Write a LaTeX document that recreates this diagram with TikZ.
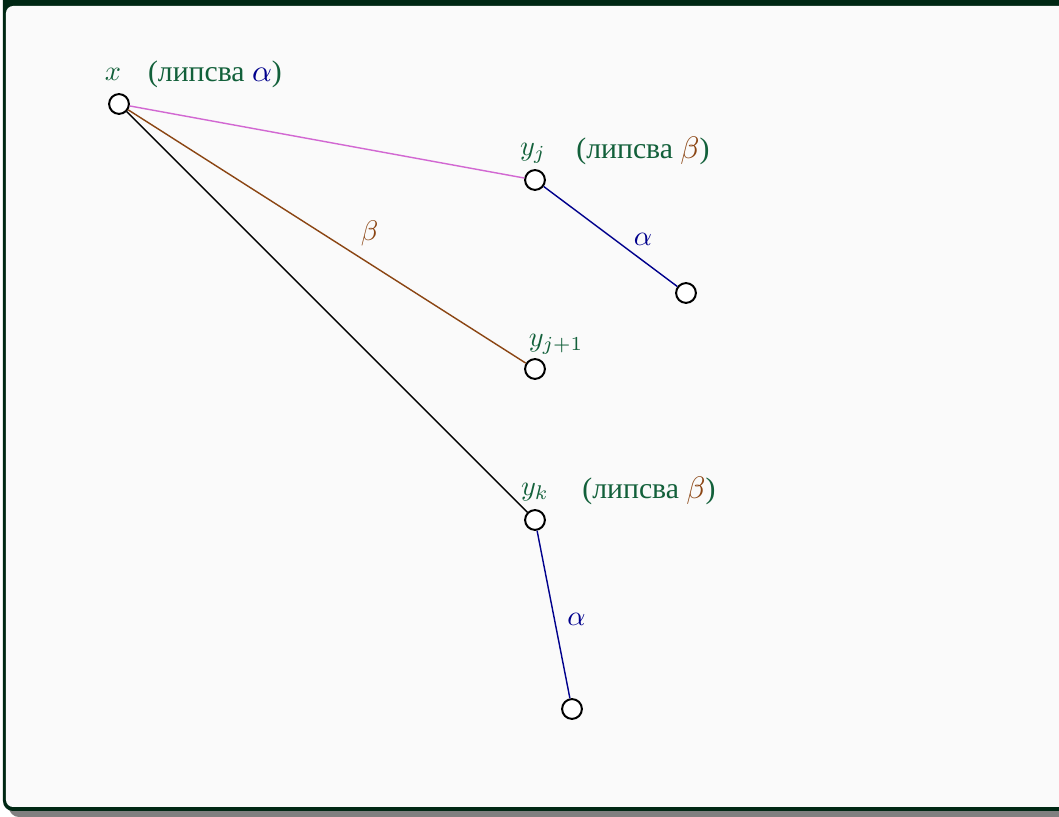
\documentclass[tikz,border=0pt]{standalone}
\usepackage{fontspec}
\newfontfamily\cyrfont{Liberation Serif}
\usepackage{tikz}
\usetikzlibrary{positioning}
\definecolor{framegreen}{RGB}{0, 40, 20}
\definecolor{shadowgray}{RGB}{128, 128, 128}
\definecolor{bgpanel}{RGB}{250, 250, 250}
\definecolor{namecolor}{RGB}{18, 96, 58}
\definecolor{alphacolor}{RGB}{0, 0, 140}
\definecolor{betacolor}{RGB}{139, 69, 19}
\definecolor{pinkcolor}{RGB}{210, 104, 210}
\tikzset{
vertex/.style={
  circle,
  draw=black,
  fill=white,
  line width=0.7pt,
  inner sep=0pt,
  minimum size=7pt
},
namelabel/.style={
  text=namecolor,
  inner sep=1pt
},
missinglabel/.style={
  font=\cyrfont\fontsize{10.5pt}{12pt}\selectfont,
  text=namecolor,
  inner sep=1pt
}
}
\begin{document}
\begin{tikzpicture}[
    x=0.3534pt, y=-0.3534pt,
    % Estilos das arestas
    alphaedge/.style={draw=alphacolor, line width=0.5pt},
    betaedge/.style={draw=betacolor, line width=0.5pt},
    pinkedge/.style={draw=pinkcolor, line width=0.5pt},
    plainedge/.style={draw=black, line width=0.5pt},
    alphalabel/.style={text=alphacolor},
    betalabel/.style={text=betacolor}
]
\useasboundingbox (0,0) rectangle (1059,817);

% ============================================================================
% Moldura
% ============================================================================
\fill[shadowgray, rounded corners=3.5pt] (9,-20) rectangle (1100,817);
\fill[framegreen, rounded corners=3.5pt] (3,-20) rectangle (1100,811);
\fill[bgpanel, rounded corners=2.5pt] (6,6) rectangle (1100,807);

% ============================================================================
% Vertices
% ============================================================================
\node[vertex] (x) at (119, 104) {};
\node[vertex] (yj) at (535, 180) {};
\node[vertex] (yjc) at (686, 293) {};
\node[vertex] (yj1) at (535, 369) {};
\node[vertex] (yk) at (535, 520) {};
\node[vertex] (ykc) at (572, 709) {};

% ============================================================================
% Nomes dos vertices
% ============================================================================
\node[namelabel] (xname) at (113, 74) {$x$};
\node[namelabel] (yjname) at (533, 153) {$y_j$};
\node[namelabel] (yj1name) at (556, 344) {$y_{j+1}$};
\node[namelabel] (ykname) at (535, 492) {$y_k$};

% ============================================================================
% Arestas
% ============================================================================
\draw[pinkedge] (x) -- (yj);
\draw[betaedge] (x) -- node[betalabel, pos=0.6, above=2pt, xshift=1pt] {$\beta$} (yj1);
\draw[plainedge] (x) -- (yk);
\draw[alphaedge] (yj) -- node[alphalabel, pos=0.6, right, yshift=2.5pt] {$\alpha$} (yjc);
\draw[alphaedge] (yk) -- node[alphalabel, pos=0.53, right, xshift=1pt] {$\alpha$} (ykc);

% ============================================================================
% Anotacoes
% ============================================================================
\node[missinglabel] (xmiss) at (215, 74) {(липсва \textcolor{alphacolor}{$\alpha$})};
\node[missinglabel] (yjmiss) at (643, 151) {(липсва \textcolor{betacolor}{$\beta$})};
\node[missinglabel] (ykmiss) at (649, 491) {(липсва \textcolor{betacolor}{$\beta$})};

\end{tikzpicture}
\end{document}
